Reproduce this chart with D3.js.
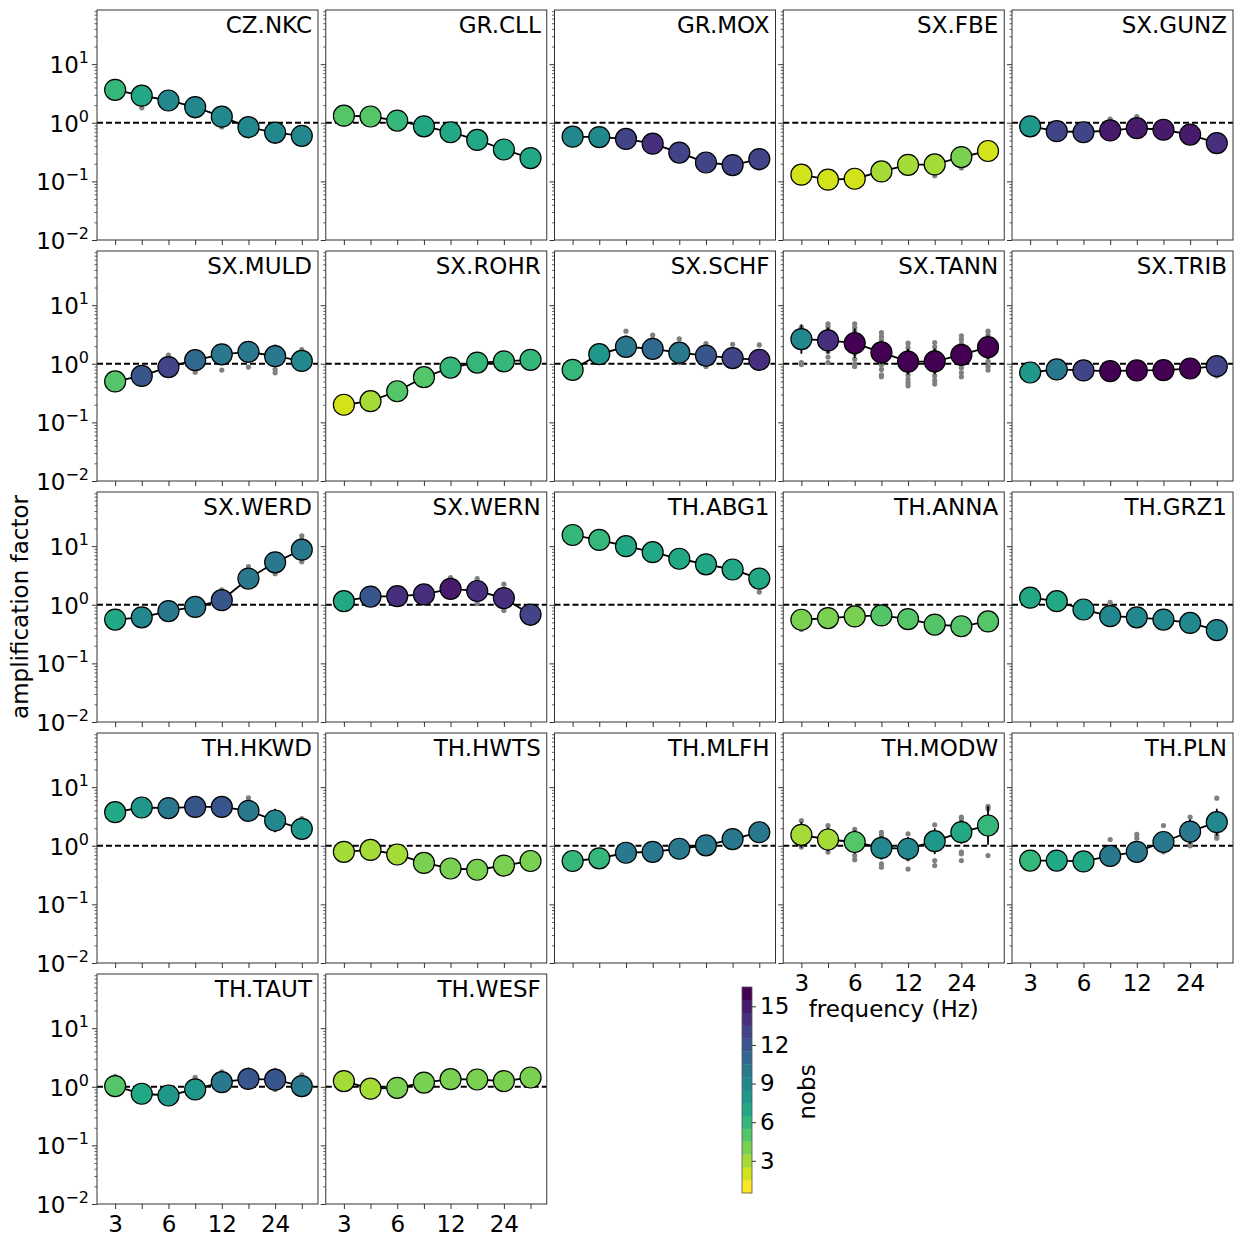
<!DOCTYPE html>
<html>
<head>
<meta charset="utf-8">
<script src="https://cdn.jsdelivr.net/npm/d3@7"></script>
<style>
  body { margin: 0; background: #fff; }
  text { font-family: "DejaVu Sans", sans-serif; fill: #000; }
</style>
</head>
<body>
<svg id="fig" width="1235" height="1236"></svg>
<script>
const stations = [
  'CZ.NKC', 'GR.CLL', 'GR.MOX', 'SX.FBE', 'SX.GUNZ',
  'SX.MULD', 'SX.ROHR', 'SX.SCHF', 'SX.TANN', 'SX.TRIB',
  'SX.WERD', 'SX.WERN', 'TH.ABG1', 'TH.ANNA', 'TH.GRZ1',
  'TH.HKWD', 'TH.HWTS', 'TH.MLFH', 'TH.MODW', 'TH.PLN',
  'TH.TAUT', 'TH.WESF'
];
const freqs = [3, 4.24, 6, 8.49, 12, 16.97, 24, 33.94];
const freqLabels = ['3', '', '6', '', '12', '', '24', ''];
const yTicks = [0.01, 0.1, 1, 10];
const cbTicks = [3, 6, 9, 12, 15];

// mean amplification per station and frequency
const amp = [
  [3.65, 2.9, 2.4, 1.85, 1.27, 0.84, 0.68, 0.6],
  [1.32, 1.28, 1.09, 0.87, 0.69, 0.51, 0.35, 0.25],
  [0.58, 0.57, 0.53, 0.44, 0.31, 0.21, 0.19, 0.24],
  [0.13, 0.107, 0.111, 0.148, 0.192, 0.195, 0.26, 0.33],
  [0.87, 0.72, 0.69, 0.74, 0.81, 0.76, 0.63, 0.45],
  [0.5, 0.62, 0.88, 1.15, 1.45, 1.6, 1.35, 1.12],
  [0.2, 0.23, 0.34, 0.59, 0.86, 1.05, 1.1, 1.17],
  [0.79, 1.46, 1.95, 1.8, 1.55, 1.38, 1.25, 1.17],
  [2.64, 2.5, 2.25, 1.56, 1.09, 1.1, 1.42, 1.92],
  [0.71, 0.8, 0.77, 0.75, 0.77, 0.78, 0.83, 0.91],
  [0.56, 0.61, 0.78, 0.92, 1.2, 2.8, 5.3, 8.7],
  [1.15, 1.38, 1.4, 1.5, 1.87, 1.72, 1.3, 0.68],
  [15.5, 12.8, 10, 7.9, 6.1, 4.9, 4.0, 2.8],
  [0.555, 0.594, 0.632, 0.657, 0.57, 0.46, 0.43, 0.52],
  [1.32, 1.15, 0.83, 0.64, 0.61, 0.56, 0.49, 0.37],
  [3.75, 4.5, 4.4, 4.6, 4.6, 3.95, 2.7, 1.95],
  [0.79, 0.85, 0.71, 0.51, 0.41, 0.39, 0.46, 0.55],
  [0.55, 0.61, 0.76, 0.79, 0.89, 1.02, 1.3, 1.7],
  [1.54, 1.28, 1.16, 0.92, 0.89, 1.2, 1.71, 2.22],
  [0.56, 0.56, 0.54, 0.67, 0.79, 1.16, 1.75, 2.53],
  [1.03, 0.76, 0.71, 0.9, 1.2, 1.36, 1.32, 1.03],
  [1.25, 0.93, 0.96, 1.18, 1.35, 1.33, 1.25, 1.44]
];

// number of observations behind each mean
const nobs = [
  [6, 7, 9, 9, 9, 9, 9, 9],
  [5, 5, 6, 7, 7, 7, 7, 7],
  [9, 9, 13, 14, 13, 13, 13, 13],
  [2, 2, 2, 3, 3, 3, 4, 2],
  [8, 13, 13, 15, 15, 15, 15, 14],
  [5, 12, 13, 11, 10, 10, 10, 9],
  [2, 3, 5, 5, 6, 6, 6, 6],
  [6, 8, 10, 11, 10, 12, 13, 14],
  [9, 14, 16, 16, 16, 16, 16, 16],
  [8, 10, 13, 16, 16, 16, 16, 13],
  [7, 9, 10, 10, 12, 10, 10, 10],
  [7, 12, 14, 14, 15, 14, 14, 13],
  [6, 6, 7, 7, 7, 7, 7, 7],
  [4, 4, 4, 5, 5, 5, 5, 5],
  [7, 7, 8, 9, 9, 9, 9, 9],
  [7, 8, 10, 12, 12, 10, 9, 8],
  [3, 3, 3, 4, 4, 4, 4, 4],
  [6, 6, 10, 10, 10, 10, 10, 10],
  [3, 3, 5, 9, 9, 8, 7, 6],
  [6, 7, 7, 10, 10, 10, 10, 9],
  [5, 7, 8, 8, 10, 12, 12, 10],
  [3, 3, 4, 4, 4, 4, 4, 4]
];

// standard deviation (log10 units) where it shows past the marker
const sdev = [
  null, null, null, null, null,
  null, null, null,
  [0.25, 0.22, 0.25, 0.2, 0.22, 0.22, 0.18, 0.2],
  null, null, null, null, null, null,
  [0.1, 0.1, 0.1, 0.1, 0.1, 0.15, 0.2, 0.15],
  null, null,
  [0.22, 0.2, 0.2, 0.2, 0.2, 0.22, 0.2, 0.33],
  [0.05, 0.05, 0.05, 0.12, 0.12, 0.15, 0.21, 0.23],
  null, null
];

// single observations [frequency index, value]
const obs = [
  [[1, 1.8], [3, 1.3], [4, 0.85], [5, 0.6], [6, 0.48]],
  [[5, 0.42], [6, 0.28], [7, 0.2]],
  [[4, 0.27], [7, 0.17]],
  [[5, 0.125], [6, 0.17], [6, 0.3], [7, 0.39]],
  [[3, 1.15], [4, 1.28], [6, 0.55], [7, 0.34]],
  [[2, 1.4], [3, 0.72], [3, 1.6], [4, 0.78], [5, 0.88], [6, 1.95], [6, 0.7], [6, 0.8], [7, 1.75], [7, 0.82]],
  [[5, 0.9], [7, 1.3]],
  [[2, 3.6], [2, 2.8], [3, 3.1], [3, 2.6], [4, 2.65], [4, 1.05], [5, 2.2], [5, 0.9], [6, 2.15], [7, 2.1]],
  [[0, 4.2], [0, 3.6], [0, 1.05], [0, 0.97],
   [1, 4.8], [1, 4.3], [1, 3.8], [1, 1.6], [1, 1.3], [1, 1.05],
   [2, 4.8], [2, 4.2], [2, 3.6], [2, 1.5], [2, 1.2], [2, 1.0], [2, 0.9],
   [3, 3.4], [3, 2.9], [3, 2.5], [3, 1.1], [3, 0.95], [3, 0.8], [3, 0.65], [3, 0.6],
   [4, 2.25], [4, 1.9], [4, 1.6], [4, 0.75], [4, 0.65], [4, 0.55], [4, 0.48], [4, 0.42],
   [5, 2.3], [5, 1.95], [5, 1.65], [5, 0.75], [5, 0.62], [5, 0.52], [5, 0.45],
   [6, 3.0], [6, 2.6], [6, 2.2], [6, 1.0], [6, 0.85], [6, 0.7], [6, 0.6],
   [7, 3.6], [7, 3.1], [7, 2.7], [7, 1.3], [7, 1.1], [7, 0.9], [7, 0.78]],
  [[3, 1.0], [5, 0.6], [6, 1.05], [7, 0.62]],
  [[4, 1.8], [5, 4.5], [6, 3.4], [7, 15], [7, 13], [7, 5.4]],
  [[4, 2.9], [5, 2.8], [5, 1.05], [6, 2.25], [6, 0.8], [7, 0.48], [7, 0.9]],
  [[7, 1.65]],
  [[0, 0.38]],
  [[3, 1.1]],
  [[5, 6.6], [5, 5.8], [6, 1.9], [7, 2.9]],
  [],
  [],
  [[0, 2.7], [0, 0.95], [1, 2.2], [1, 0.78], [2, 1.9], [2, 0.68], [2, 0.58],
   [3, 1.7], [3, 1.5], [3, 0.49], [3, 0.43], [4, 1.6], [4, 0.6], [4, 0.4],
   [5, 2.28], [5, 0.56], [5, 0.46], [6, 3.1], [6, 2.8], [6, 0.78], [6, 0.73], [6, 0.56],
   [7, 4.7], [7, 4.3], [7, 0.68]],
  [[2, 0.62], [3, 1.28], [4, 1.56], [4, 1.35], [5, 2.22], [5, 0.79], [6, 3.1], [6, 1.08], [6, 1.0],
   [7, 6.5], [7, 3.3], [7, 1.5], [7, 1.35]],
  [[0, 1.5], [3, 1.45], [4, 1.8], [5, 1.95], [6, 1.9], [6, 0.9], [7, 1.6]],
  []
];

const svg = d3.select('#fig');
const W = 221, H = 230, X0 = 97, Y0 = 10, DX = 228.75, DY = 241;
const FS = 23;

const x = d3.scaleLog().domain([2.37, 41.9]).range([0, W]);
const y = d3.scaleLog().domain([0.01, 84]).range([H, 0]);
const color = n => d3.interpolateViridis((16 - n) / 15);

const minorY = [];
[0.01, 0.1, 1, 10].forEach(d => {
  for (let m = 2; m <= 9; m++) if (d * m <= 84) minorY.push(d * m);
});
const supMinus = e => (e < 0 ? '\u2212' + (-e) : '' + e);

function styleAxis(ax, width) {
  ax.select('.domain').remove();
  ax.selectAll('line').attr('stroke', '#333').attr('stroke-width', width);
  ax.attr('font-size', FS).attr('font-family', '"DejaVu Sans", sans-serif');
}

stations.forEach((name, k) => {
  const c = k % 5, r = Math.floor(k / 5);
  const g = svg.append('g').attr('transform', `translate(${X0 + c * DX},${Y0 + r * DY})`);

  // y axis ticks
  const yMin = g.append('g').call(d3.axisLeft(y).tickValues(minorY).tickSize(2.5).tickFormat(''));
  styleAxis(yMin, 0.8);
  const yMaj = g.append('g').call(d3.axisLeft(y).tickValues(yTicks).tickSize(5).tickPadding(3).tickFormat(''));
  styleAxis(yMaj, 1);
  if (c === 0) {
    yMaj.selectAll('.tick text').each(function (d) {
      const t = d3.select(this).attr('dy', '0.36em');
      t.append('tspan').text('10');
      t.append('tspan').attr('font-size', 16).attr('dy', '-0.62em').text(supMinus(Math.round(Math.log10(d))));
    });
  }

  // x axis ticks: labels where no panel (or colour bar slot) sits below
  const labelled = k >= 18;
  const xAx = g.append('g').attr('transform', `translate(0,${H})`)
    .call(d3.axisBottom(x).tickValues(freqs).tickSize(5).tickPadding(7)
      .tickFormat((d, i) => (labelled ? freqLabels[i] : '')));
  styleAxis(xAx, 1);

  // reference line at 1
  g.append('line').attr('x1', 0).attr('x2', W).attr('y1', y(1)).attr('y2', y(1))
    .attr('stroke', '#000').attr('stroke-width', 2).attr('stroke-dasharray', '6,3');

  // single observations
  g.selectAll('circle.obs').data(obs[k]).join('circle').attr('class', 'obs')
    .attr('cx', d => x(freqs[d[0]])).attr('cy', d => y(d[1])).attr('r', 2.6)
    .attr('fill', '#808080');

  // error bars
  if (sdev[k]) {
    g.selectAll('line.err').data(amp[k]).join('line').attr('class', 'err')
      .attr('x1', (d, i) => x(freqs[i])).attr('x2', (d, i) => x(freqs[i]))
      .attr('y1', (d, i) => y(d * Math.pow(10, -sdev[k][i])))
      .attr('y2', (d, i) => y(d * Math.pow(10, sdev[k][i])))
      .attr('stroke', '#000').attr('stroke-width', 1.8);
  }

  // mean curve
  const line = d3.line().x((d, i) => x(freqs[i])).y(d => y(d));
  g.append('path').attr('d', line(amp[k])).attr('fill', 'none')
    .attr('stroke', '#000').attr('stroke-width', 1.8);

  g.selectAll('circle.mean').data(amp[k]).join('circle').attr('class', 'mean')
    .attr('cx', (d, i) => x(freqs[i])).attr('cy', d => y(d)).attr('r', 10.5)
    .attr('fill', (d, i) => color(nobs[k][i])).attr('stroke', '#000').attr('stroke-width', 1.2);

  // frame
  g.append('rect').attr('width', W).attr('height', H)
    .attr('fill', 'none').attr('stroke', '#333').attr('stroke-width', 1);

  g.append('text').attr('x', W - 6).attr('y', 23).attr('text-anchor', 'end')
    .attr('font-size', FS).text(name);
});

// axis titles
svg.append('text').attr('transform', 'translate(28,607) rotate(-90)')
  .attr('text-anchor', 'middle').attr('font-size', FS).text('amplification factor');
svg.append('text').attr('x', X0 + 3 * DX + W / 2).attr('y', 1017)
  .attr('text-anchor', 'middle').attr('font-size', FS).text('frequency (Hz)');

// discrete colour bar
const cb = d3.scaleLinear().domain([0.5, 16.5]).range([1193, 987]);
const cbX = 742, cbW = 10;
const levels = d3.range(1, 17);
svg.append('g').selectAll('rect').data(levels).join('rect')
  .attr('x', cbX).attr('width', cbW)
  .attr('y', d => cb(d + 0.5)).attr('height', d => cb(d - 0.5) - cb(d + 0.5) + 0.3)
  .attr('fill', d => color(d));
svg.append('rect').attr('x', cbX).attr('y', cb(16.5)).attr('width', cbW)
  .attr('height', cb(0.5) - cb(16.5)).attr('fill', 'none').attr('stroke', '#555').attr('stroke-width', 0.8);
const cbAx = svg.append('g').attr('transform', `translate(${cbX + cbW},0)`)
  .call(d3.axisRight(cb).tickValues(cbTicks).tickSize(4).tickPadding(4));
styleAxis(cbAx, 1);
svg.append('text').attr('transform', 'translate(815,1092) rotate(-90)')
  .attr('text-anchor', 'middle').attr('font-size', FS).text('nobs');
</script>
</body>
</html>
